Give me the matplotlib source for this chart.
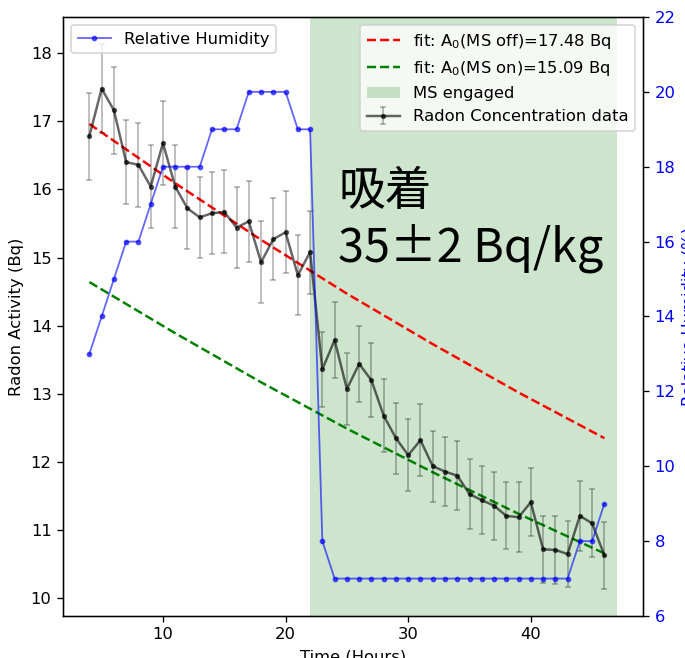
import numpy as np
import matplotlib.pyplot as plt

# --- data ---
hours = list(range(4, 47))
radon = [16.78, 17.48, 17.16, 16.40, 16.36, 16.04, 16.68, 16.04, 15.72, 15.59,
         15.65, 15.67, 15.44, 15.53, 14.93, 15.27, 15.37, 14.74, 15.08,
         13.36, 13.79, 13.07, 13.44, 13.20, 12.68, 12.35, 12.10, 12.32, 11.94,
         11.86, 11.80, 11.53, 11.44, 11.36, 11.21, 11.19, 11.41, 10.72, 10.71,
         10.65, 11.21, 11.10, 10.63]
radon_err = [0.64, 0.65, 0.64, 0.62, 0.62, 0.61, 0.62, 0.61, 0.60, 0.59,
             0.60, 0.61, 0.59, 0.59, 0.60, 0.60, 0.60, 0.59, 0.61,
             0.55, 0.56, 0.53, 0.56, 0.54, 0.54, 0.52, 0.53, 0.53, 0.52,
             0.51, 0.51, 0.51, 0.50, 0.50, 0.49, 0.51, 0.50, 0.49, 0.50,
             0.49, 0.51, 0.50, 0.49]
humidity = [13, 14, 15, 16, 16, 17, 18, 18, 18, 18, 19, 19, 19, 20, 20, 20, 20,
            19, 19, 8, 7, 7, 7, 7, 7, 7, 7, 7, 7, 7, 7, 7, 7, 7, 7, 7, 7, 7,
            7, 7, 8, 8, 9]

fit_t = [4, 11, 18, 25, 32, 39, 46]
fit_off = [16.96, 16.09, 15.26, 14.47, 13.73, 13.02, 12.35]
fit_on = [14.64, 13.89, 13.17, 12.49, 11.85, 11.24, 10.66]

ms_start, ms_end = 22, 47

# --- plot ---
fig = plt.figure(figsize=(685 / 118, 658 / 118), dpi=118)
ax = fig.add_axes([0.092, 0.0638, 0.8467, 0.9104])

ax.plot(fit_t, fit_off, 'r--', label="fit: A$_0$(MS off)=17.48 Bq")
ax.plot(fit_t, fit_on, 'g--', label="fit: A$_0$(MS on)=15.09 Bq")
ax.axvspan(ms_start, ms_end, color='g', alpha=0.2, lw=0, label="MS engaged")
ax.errorbar(hours, radon, yerr=radon_err, fmt='.-', color=(0, 0, 0, 0.6),
            ms=4.5, ecolor=(0, 0, 0, 0.3), elinewidth=1, capsize=2,
            label="Radon Concentration data")
ax.set_xlabel("Time (Hours)")
ax.set_ylabel("Radon Activity (Bq)")
ax.legend(loc='upper right')

ax2 = ax.twinx()
ax2.plot(hours, humidity, 'b.-', alpha=0.6, lw=1.1, ms=5, label="Relative Humidity")
ax2.set_ylim(6, 22)
ax2.set_ylabel("Relative Humidity (%)", color='b')
ax2.tick_params(axis='y', labelcolor='b')
ax2.legend(loc='upper left')

# --- big annotation ---
fonts = ['Noto Sans CJK JP', 'DejaVu Sans']
fig.text(0.494, 0.688, "吸着", fontsize=28.5, family=fonts, va='baseline')
fig.text(0.494, 0.602, "35±2 Bq/kg", fontsize=28.5, family=fonts, va='baseline')

fig.savefig("out.png", dpi=118)
